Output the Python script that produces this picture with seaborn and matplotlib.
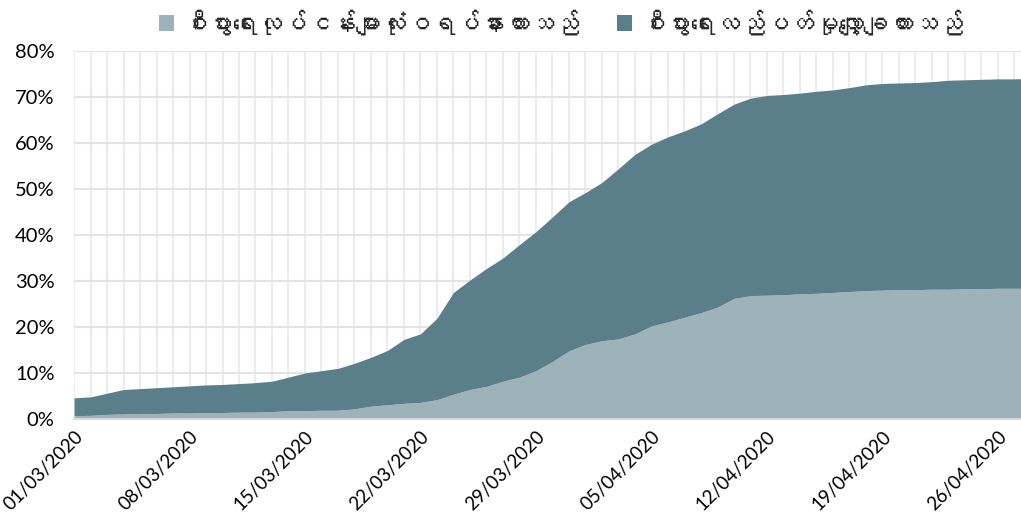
import pandas as pd
import matplotlib
matplotlib.use("Agg")
import matplotlib.pyplot as plt
import matplotlib.dates as mdates
from matplotlib import font_manager
from matplotlib.ticker import MultipleLocator, FuncFormatter
from fontTools.ttLib import TTFont
import seaborn as sns

# daily dates, 01/03/2020 .. 28/04/2020
dates = pd.date_range("2020-03-01", "2020-04-28", freq="D")

series_names = [
    "စီးပွားရေးလုပ်ငန်းများလုံးဝရပ်နားထားသည်",
    "စီးပွားရေးလည်ပတ်မှုလျှော့ချထားသည်",
]

# share of businesses fully closed (%)
closed = [0.8, 0.9, 1.1, 1.2, 1.3, 1.3, 1.4, 1.4, 1.5, 1.5,
          1.6, 1.6, 1.7, 1.9, 1.9, 2.0, 2.0, 2.3, 2.9, 3.2,
          3.5, 3.7, 4.3, 5.5, 6.5, 7.2, 8.3, 9.2, 10.6, 12.6,
          14.9, 16.3, 17.1, 17.5, 18.6, 20.3, 21.2, 22.2, 23.2, 24.4,
          26.3, 26.9, 27.0, 27.1, 27.3, 27.4, 27.6, 27.8, 28.0, 28.1,
          28.2, 28.2, 28.3, 28.3, 28.4, 28.4, 28.5, 28.5, 28.5]

# share of businesses with reduced operations (%)
reduced = [3.9, 4.0, 4.6, 5.3, 5.4, 5.6, 5.7, 5.9, 6.0, 6.1,
           6.2, 6.4, 6.6, 7.3, 8.2, 8.6, 9.1, 9.9, 10.6, 11.8,
           13.9, 14.9, 17.7, 22.1, 23.8, 25.6, 26.8, 28.8, 30.2, 31.4,
           32.4, 33.0, 34.4, 37.0, 39.0, 39.5, 40.2, 40.5, 41.0, 42.0,
           42.2, 42.9, 43.4, 43.5, 43.6, 43.9, 44.0, 44.3, 44.7, 44.9,
           44.9, 45.0, 45.1, 45.4, 45.4, 45.5, 45.5, 45.5, 45.6]

tick_dates = ["2020-03-01", "2020-03-08", "2020-03-15", "2020-03-22", "2020-03-29",
              "2020-04-05", "2020-04-12", "2020-04-19", "2020-04-26"]

colors = ["#9db2ba", "#5a7f8a"]


def find_myanmar_family():
    # look for any installed font that covers the Myanmar block
    for f in font_manager.fontManager.ttflist:
        try:
            tt = TTFont(f.fname, fontNumber=0, lazy=True)
            cmap = tt.getBestCmap() or {}
            if 0x1005 in cmap and 0x102C in cmap:
                return f.name
        except Exception:
            continue
    return None


sns.set_theme(style="white")
families = ["Lato", "Noto Sans", "DejaVu Sans"]
mm = find_myanmar_family()
if mm:
    families.insert(1, mm)
plt.rcParams["font.family"] = families

fig = plt.figure(figsize=(10.21, 5.23), dpi=100)
ax = fig.add_axes([0.0725, 0.198, 0.9275, 0.704])

df = pd.DataFrame({"date": dates, series_names[0]: closed, series_names[1]: reduced})
ax.stackplot(df["date"], df[series_names[0]], df[series_names[1]],
             colors=colors, labels=series_names, linewidth=0, zorder=2)

ax.set_ylim(0, 80)
ax.set_xlim(pd.Timestamp("2020-03-01"), pd.Timestamp("2020-03-01") + pd.Timedelta(days=57.4))
ax.yaxis.set_major_locator(MultipleLocator(10))
ax.yaxis.set_major_formatter(FuncFormatter(lambda v, p: f"{v:.0f}%"))

ax.set_xticks(pd.to_datetime(tick_dates))
ax.xaxis.set_major_formatter(mdates.DateFormatter("%d/%m/%Y"))
ax.xaxis.set_minor_locator(mdates.DayLocator())

ax.grid(True, axis="y", color="#e4e4e4", linewidth=1.5, zorder=0)
ax.grid(True, axis="x", which="both", color="#ececec", linewidth=1.5, zorder=0)
ax.set_axisbelow(True)

for s in ["top", "right", "left"]:
    ax.spines[s].set_visible(False)
ax.spines["bottom"].set_color("#d9d9d9")
ax.spines["bottom"].set_linewidth(1.5)
ax.spines["bottom"].set_zorder(3)

ax.tick_params(axis="y", length=0, pad=14, labelsize=14.5, labelcolor="black")
ax.tick_params(axis="x", which="major", direction="inout", length=8, width=1.2,
               color="#d0d0d0", labelsize=13.5, labelcolor="black", pad=2)
ax.tick_params(axis="x", which="minor", direction="in", length=3.5, width=1.2,
               color="#d0d0d0")
for lbl in ax.get_xticklabels():
    lbl.set_rotation(45)
    lbl.set_ha("right")
    lbl.set_va("top")
    lbl.set_rotation_mode("anchor")

ax.set_xlabel("")
ax.set_ylabel("")

fig.legend(loc="upper center", bbox_to_anchor=(0.55, 1.01), ncol=2, frameon=False,
           fontsize=17.8, handlelength=0.6, handleheight=0.6, handletextpad=0.4,
           columnspacing=1.5, borderaxespad=0.2)

fig.savefig("out.png", dpi=100)
